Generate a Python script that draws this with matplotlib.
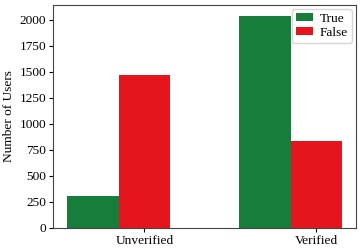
import matplotlib

matplotlib.use("Agg")
import matplotlib.pyplot as plt
import numpy as np

categories = ["Unverified", "Verified"]
true_counts = [305, 2040]
false_counts = [1470, 838]
series_labels = ["True", "False"]
y_ticks = [0, 250, 500, 750, 1000, 1250, 1500, 1750, 2000]

plt.rcParams["font.family"] = ["Liberation Serif", "DejaVu Serif"]
plt.rcParams["font.size"] = 9.6

width = 0.3
x = np.arange(len(categories))

fig, ax = plt.subplots(figsize=(3.62, 2.48), dpi=100)
ax.bar(x, true_counts, width, color="#167d3a", label=series_labels[0])
ax.bar(x + width, false_counts, width, color="#e5151d", label=series_labels[1])
ax.set_xticks(x + width)
ax.set_xticklabels(categories)
ax.set_yticks(y_ticks)
ax.tick_params(length=3, pad=2)
ax.set_ylabel("Number of Users", labelpad=3)
for s in ax.spines.values():
    s.set_color("#444444")
ax.legend(loc="upper right", borderpad=0.3, handlelength=1.3, handleheight=0.6,
          labelspacing=0.15, borderaxespad=0.3, handletextpad=0.5)
fig.subplots_adjust(left=0.147, right=0.983, top=0.98, bottom=0.081)
fig.savefig("out.png")
plt.close(fig)
